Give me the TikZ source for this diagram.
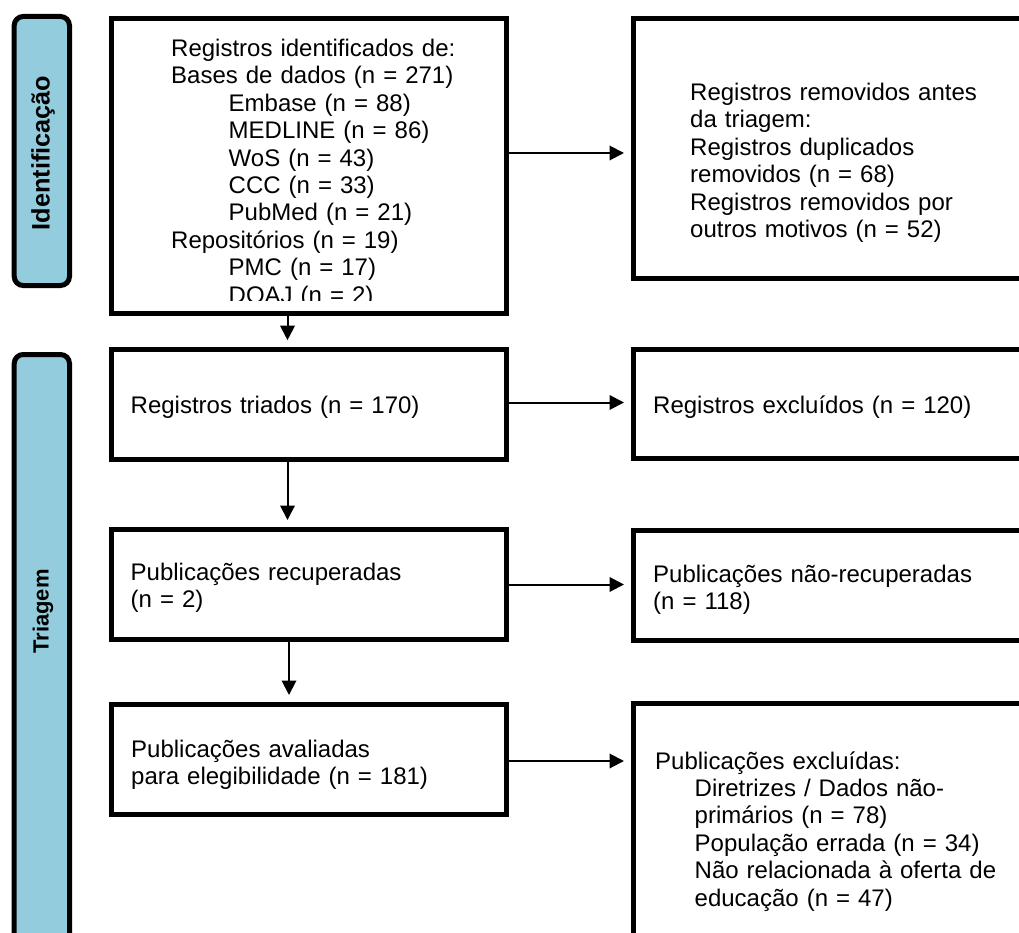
\documentclass[tikz,border=0pt]{standalone}
\usepackage{fontspec}
\setmainfont{Liberation Sans}
\usetikzlibrary{arrows.meta}
\definecolor{sidefill}{RGB}{147,205,221}
\begin{document}
\begin{tikzpicture}[x=1pt,y=-1pt,
  box/.style={draw=black, line width=5pt, rectangle, inner sep=0pt},
  leftbox/.style={box, minimum width=395.5pt},
  rightbox/.style={box, minimum width=412pt},
  side/.style={draw=black, fill=sidefill, line width=5pt, rounded corners=9pt,
    rectangle, inner sep=0pt, minimum width=55.3pt},
  sidelabel/.style={rotate=90, inner sep=0pt, font=\fontsize{22}{26}\selectfont\bfseries},
  txt/.style={anchor=base west, inner sep=0pt, align=left,
    font=\fontsize{24}{27.4}\selectfont},
  arr/.style={line width=2pt, -{Triangle[length=14.5pt,width=14.5pt]}, shorten >=6.5pt}
]
\useasboundingbox (0,0) rectangle (1019,933);

% phase bars
\node[side, minimum height=269pt] (sideA) at (41.85,151) {};
\node[sidelabel, font=\fontsize{25.3}{30}\selectfont\bfseries] (labA) at (43,153) {Identificação};
\node[side, minimum height=625.5pt] (sideB) at (41.85,667.25) {};
\node[sidelabel] (labB) at (43,611.5) {Triagem};

% left column
\node[leftbox, minimum height=294.5pt] (b1) at (308.75,166.25) {};
\node[leftbox, minimum height=109.8pt] (b2) at (308.75,404.1) {};
\node[leftbox, minimum height=110pt] (b3) at (308.75,584) {};
\node[leftbox, minimum height=110.2pt] (b4) at (308.75,759.1) {};

% right column
\node[rightbox, minimum height=260pt] (r1) at (839,148.5) {};
\node[rightbox, minimum height=109pt] (r2) at (839,404) {};
\node[rightbox, minimum height=110pt] (r3) at (839,585.5) {};
\node[rightbox, minimum height=286.8pt] (r4) at (839,846.6) {};

% box texts
\begin{scope}
  \clip (113.5,21.5) rectangle (504,300.5);
  \node[txt, text width=330pt] (t1) at (171,56.5) {Registros identificados de:\\
    Bases de dados (n = 271)\\
    \hspace*{57.5pt}Embase (n = 88)\\
    \hspace*{57.5pt}MEDLINE (n = 86)\\
    \hspace*{57.5pt}WoS (n = 43)\\
    \hspace*{57.5pt}CCC (n = 33)\\
    \hspace*{57.5pt}PubMed (n = 21)\\
    Repositórios (n = 19)\\
    \hspace*{57.5pt}PMC (n = 17)\\
    \hspace*{57.5pt}DOAJ (n = 2)};
\end{scope}
\node[txt, text width=320pt] (tr1) at (690,100.5) {Registros removidos antes\\
  da triagem:\\
  Registros duplicados\\
  removidos (n = 68)\\
  Registros removidos por\\
  outros motivos (n = 52)};
\node[txt, text width=360pt] (t2) at (130.5,413.5) {Registros triados (n = 170)};
\node[txt, text width=360pt] (tr2) at (653,413.3) {Registros excluídos (n = 120)};
\node[txt, text width=360pt] (t3) at (130.5,580.5) {Publicações recuperadas\\(n = 2)};
\node[txt, text width=360pt] (tr3) at (653,582.3) {Publicações não-recuperadas\\(n = 118)};
\node[txt, text width=360pt] (t4) at (131,757.2) {Publicações avaliadas\\para elegibilidade (n = 181)};
\node[txt, text width=360pt] (tr4) at (655,769) {Publicações excluídas:\\
  \hspace*{39.5pt}Diretrizes / Dados não-\\
  \hspace*{39.5pt}primários (n = 78)\\
  \hspace*{39.5pt}População errada (n = 34)\\
  \hspace*{39.5pt}Não relacionada à oferta de\\
  \hspace*{39.5pt}educação (n = 47)};

% connector heights
\coordinate (h1) at (0,153);
\coordinate (h2) at (0,402.5);
\coordinate (h3) at (0,584.5);
\coordinate (h4) at (0,761);
\coordinate (v1) at (287.5,0);
\coordinate (v3) at (289,0);

% connectors
\draw[arr] (b1.south -| v1) -- (b2.north -| v1);
\draw[arr] (b2.south -| v1) -- (b3.north -| v1);
\draw[arr] (b3.south -| v3) -- (b4.north -| v3);
\draw[arr] (b1.east |- h1) -- (r1.west |- h1);
\draw[arr] (b2.east |- h2) -- (r2.west |- h2);
\draw[arr] (b3.east |- h3) -- (r3.west |- h3);
\draw[arr] (b4.east |- h4) -- (r4.west |- h4);
\end{tikzpicture}
\end{document}
